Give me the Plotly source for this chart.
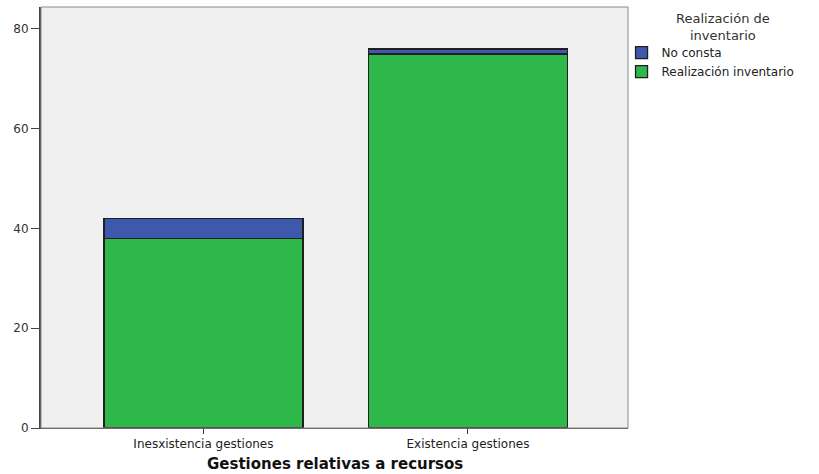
import plotly.graph_objects as go

categories = ["Inesxistencia gestiones", "Existencia gestiones"]
realizacion = [38, 75]
no_consta = [4, 1]
y_ticks = [0, 20, 40, 60, 80]

fig = go.Figure()
fig.add_trace(go.Bar(
    x=categories, y=realizacion, name="Realización inventario",
    marker=dict(color="#2EB84A", line=dict(color="#1f1f1f", width=1.3)),
    width=0.752,
))
fig.add_trace(go.Bar(
    x=categories, y=no_consta, name="No consta",
    marker=dict(color="#3E58AC", line=dict(color="#1f1f1f", width=1.3)),
    width=0.752,
))

fig.update_layout(
    barmode="stack",
    width=819, height=474,
    margin=dict(l=41, r=191, t=7, b=46, autoexpand=False),
    paper_bgcolor="white",
    plot_bgcolor="#F0F0F0",
    font=dict(family="DejaVu Sans", size=12, color="#333333"),
    showlegend=True,
    legend=dict(
        x=0.989, y=0.926, xanchor="left", yanchor="top",
        traceorder="reversed",
        font=dict(size=12, color="#222222"),
        itemwidth=30,
        bgcolor="rgba(0,0,0,0)",
        tracegroupgap=0,
    ),
    xaxis=dict(
        range=[-0.614, 1.605],
        automargin=False,
        showline=True, linecolor="#555555", linewidth=1, mirror=False,
        ticks="outside", ticklen=5, tickcolor="#333333",
        tickfont=dict(size=12, color="#222222"),
    ),
    yaxis=dict(
        range=[0, 84.4],
        automargin=False,
        tickvals=y_ticks,
        showline=True, linecolor="#444444", linewidth=2,
        showgrid=False, zeroline=False,
        ticks="outside", ticklen=8, tickcolor="#444444",
        tickfont=dict(size=12, color="#333333"),
    ),
    annotations=[
        dict(text="<b>Gestiones relativas a recursos</b>", xref="paper", yref="paper",
             x=0.50, y=-0.0855, xanchor="center", yanchor="middle", showarrow=False,
             font=dict(size=15, color="#111111")),
        dict(text="Realización de<br>inventario", xref="paper", yref="paper",
             x=(723 - 41) / 587, y=1 - (27 - 7) / 421, xanchor="center", yanchor="middle",
             showarrow=False, align="center",
             font=dict(size=13, color="#333333")),
    ],
)

fig.add_shape(type="rect", xref="paper", yref="paper", x0=0, y0=0, x1=1, y1=1,
              line=dict(color="#888888", width=1), layer="above")

fig.write_html("out.html", config={"displayModeBar": False},
               post_script="document.body.style.margin='0';")
